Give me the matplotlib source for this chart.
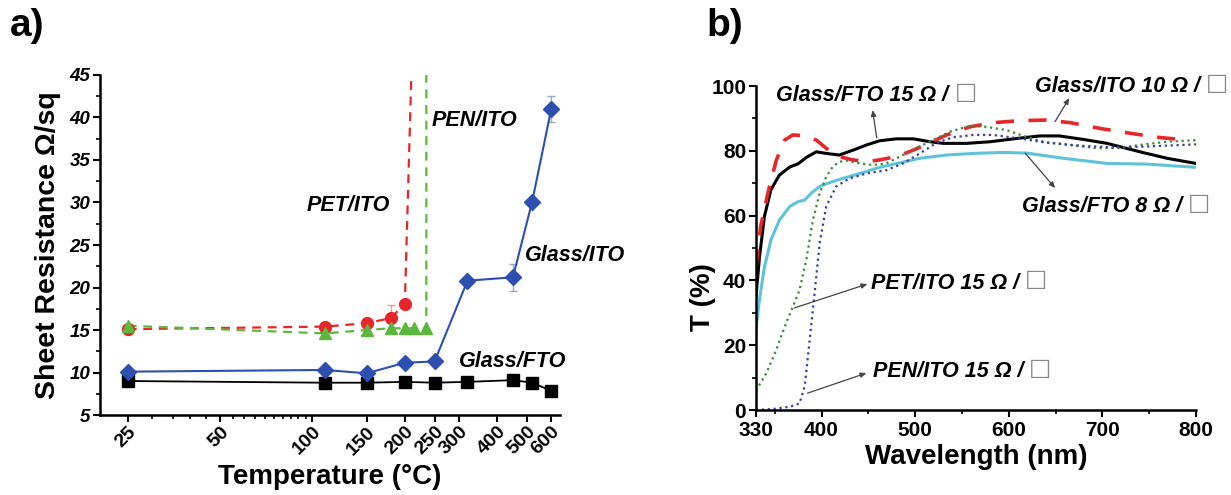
import numpy as np
import matplotlib
matplotlib.use("Agg")
import matplotlib.pyplot as plt
from matplotlib.ticker import FixedLocator, NullFormatter, MultipleLocator

plt.rcParams['font.family'] = ['Liberation Sans', 'DejaVu Sans']

# --- panel a: sheet resistance vs annealing temperature ---
temps = [25, 110, 150, 200, 250, 320, 450, 520, 600]
rs_fto = [9.0, 8.8, 8.8, 8.9, 8.8, 8.9, 9.1, 8.8, 7.85]
rs_ito = [10.1, 10.3, 9.9, 11.15, 11.3, 20.8, 21.2, 30.1, 41.0]
err_ito = [0.2, 0.2, 0.2, 0.3, 0.3, 0.3, 1.6, 0.3, 1.5]

temps_pet = [25, 110, 150, 180, 200]
rs_pet = [15.1, 15.4, 15.8, 16.4, 18.1]
err_pet = [0.2, 0.2, 0.2, 1.5, 0.2]
pet_fail = (210, 45)

temps_pen = [25, 110, 150, 180, 200, 215, 235]
rs_pen = [15.5, 14.6, 15.0, 15.2, 15.2, 15.2, 15.2]
pen_fail = (235, 45)

xticks_a = [25, 50, 100, 150, 200, 250, 300, 400, 500, 600]
xminor_a = [30, 35, 40, 45, 55, 60, 65, 70, 75, 80, 85, 90, 95]

# --- panel b: transmittance spectra ---
wl_fto15 = [330, 333.7, 339, 346, 355, 366, 375, 384, 394.5, 405, 419, 433.6, 448, 462,
            480, 498, 516, 530, 555, 580, 608, 633, 654, 680, 705, 740, 769, 800]
t_fto15 = [35, 47, 59.7, 68, 72.5, 75, 76, 78, 79.7, 79.2, 78.7, 80.2, 81.8, 83.1,
           83.7, 83.7, 82.8, 82.3, 82.3, 82.8, 83.8, 84.6, 84.6, 83.5, 82.3, 79.7, 77.7, 76.1]

wl_ito10 = [330, 335, 342.7, 351.6, 360.5, 369.4, 383.7, 394.5, 405, 419, 433.6, 448, 462,
            480, 498, 516, 533.6, 558.5, 583.5, 612, 640, 665.5, 697.7, 730, 758.5, 790]
t_ito10 = [44, 56.6, 66.9, 77, 83.3, 84.9, 84.6, 83.3, 80.8, 78.2, 77.2, 76.6, 77.2,
           78.2, 80.2, 82.5, 84.9, 87.4, 88.7, 89.3, 89.5, 88.7, 86.9, 85.4, 84.2, 83.3]

wl_fto8 = [330, 333.7, 339, 346, 355, 366, 375, 382, 389, 398, 408.7, 423, 441, 462,
           483.6, 505, 533.6, 562, 594, 619, 658.5, 705, 747.7, 800]
t_fto8 = [25, 34, 44, 52.5, 58.6, 62.8, 64.3, 64.8, 66.9, 69, 70.2, 71.5, 73, 74.9,
          76.3, 77.7, 78.7, 79.2, 79.5, 79.3, 77.7, 76.1, 75.9, 74.9]

wl_pet = [330, 341, 351.6, 362, 369.4, 376.5, 383.7, 390.8, 398, 405, 412, 419, 426.5,
          441, 455, 469, 483.6, 501, 519, 537, 558.5, 576, 597.7, 615.6, 637, 665.5,
          694, 719, 748, 769, 800]
t_pet = [6, 11.3, 18.5, 26.7, 31.9, 37, 46.3, 58.6, 66.9, 72, 75.1, 76.6, 77,
         76.1, 75.6, 76.1, 78.2, 80.8, 83.3, 85.9, 87.7, 87.4, 86.4, 84.6, 82.8, 81.8,
         80.8, 81, 82.1, 82.8, 83.3]

wl_pen = [330, 348, 366, 376.5, 382, 387, 392.6, 398, 405, 415.7, 430, 448, 469, 487,
          505, 523, 540.7, 562, 583.5, 612, 640, 680, 720, 760, 800]
t_pen = [0, 0.3, 1, 2, 7.2, 20.6, 36, 51.4, 62.8, 69, 71.5, 73, 74, 76.1,
         79.2, 82.5, 84.2, 84.9, 84.9, 83.8, 82.5, 81.5, 81, 81.5, 82]

fig = plt.figure(figsize=(12.31, 4.95), dpi=100)
ax1 = fig.add_axes([0.0812, 0.1616, 0.3736, 0.6869])
ax2 = fig.add_axes([0.6141, 0.1717, 0.3575, 0.6545])

BLUE = '#2d4fb0'
RED = '#e8262a'
GREEN = '#5cb83c'

# panel a
ax1.plot(temps, rs_fto, '-', color='black', lw=1.3, marker='s', ms=8, zorder=3)
ax1.errorbar(temps, rs_ito, yerr=err_ito, fmt='-D', color=BLUE, lw=1.5, ms=8.5,
             ecolor='#9aa6c8', elinewidth=1, capsize=3, zorder=3)
ax1.plot(temps_pet + [pet_fail[0]], rs_pet + [pet_fail[1]], '--', color=RED, lw=1.6,
         dashes=(4, 3), zorder=2)
ax1.errorbar(temps_pet, rs_pet, yerr=err_pet, fmt='o', color=RED, ms=8.5,
             ecolor='#e8a0a0', elinewidth=1, capsize=3, zorder=3)
ax1.plot(temps_pen + [pen_fail[0]], rs_pen + [pen_fail[1]], '--', color=GREEN, lw=1.6,
         dashes=(4, 3), zorder=2)
ax1.plot(temps_pen, rs_pen, '^', color=GREEN, ms=9, zorder=4)

ax1.set_xscale('log')
ax1.set_xlim(20.3, 640)
ax1.set_ylim(5, 45)
ax1.xaxis.set_major_locator(FixedLocator(xticks_a))
ax1.xaxis.set_minor_locator(FixedLocator(xminor_a))
ax1.xaxis.set_minor_formatter(NullFormatter())
ax1.set_xticklabels([str(t) for t in xticks_a], rotation=45, ha='right', va='top',
                    rotation_mode='anchor', fontsize=14, fontweight='bold')
ax1.yaxis.set_major_locator(MultipleLocator(5))
ax1.yaxis.set_minor_locator(MultipleLocator(2.5))
for lab in ax1.get_yticklabels():
    lab.set_fontsize(13.5)
    lab.set_fontweight('bold')
    lab.set_fontstyle('italic')
ax1.tick_params(axis='both', which='major', direction='out', length=5, width=1.5)
ax1.tick_params(axis='both', which='minor', direction='out', length=3, width=1.2)
ax1.tick_params(axis='x', which='major', pad=1)
ax1.tick_params(axis='y', which='major', pad=2)
for s in ['top', 'right']:
    ax1.spines[s].set_visible(False)
for s in ['left', 'bottom']:
    ax1.spines[s].set_linewidth(1.8)
ax1.set_xlabel('Temperature (°C)', fontsize=20, fontweight='bold', labelpad=4)
ax1.set_ylabel('Sheet Resistance Ω/sq', fontsize=20.5, fontweight='bold', labelpad=6)

lab_kw = dict(fontsize=15.5, fontweight='bold', fontstyle='italic', ha='left', va='center')
ax1.text(96, 29.7, 'PET/ITO', **lab_kw)
ax1.text(244, 39.7, 'PEN/ITO', **lab_kw)
ax1.text(491, 23.8, 'Glass/ITO', clip_on=False, **lab_kw)
ax1.text(301, 11.3, 'Glass/FTO', **lab_kw)

# panel b
ax2.plot(wl_fto15, t_fto15, '-', color='black', lw=2.2)
ax2.plot(wl_ito10, t_ito10, '--', color=RED, lw=2.6, dashes=(5, 4))
ax2.plot(wl_fto8, t_fto8, '-', color='#5ec3d8', lw=2.2)
ax2.plot(wl_pet, t_pet, ':', color='#3a8a3a', lw=1.6)
ax2.plot(wl_pen, t_pen, ':', color='#3c3ca0', lw=1.6)

ax2.set_xlim(330, 800)
ax2.set_ylim(0, 100)
ax2.set_xticks([330, 400, 500, 600, 700, 800])
ax2.xaxis.set_minor_locator(FixedLocator([350, 450, 550, 650, 750]))
ax2.yaxis.set_major_locator(MultipleLocator(20))
ax2.yaxis.set_minor_locator(MultipleLocator(10))
for lab in ax2.get_xticklabels() + ax2.get_yticklabels():
    lab.set_fontsize(15)
    lab.set_fontweight('bold')
ax2.tick_params(axis='both', which='major', direction='out', length=5, width=1.5, pad=1)
ax2.tick_params(axis='both', which='minor', direction='out', length=3, width=1.2)
ax2.tick_params(axis='x', which='major', pad=3)
ax2.tick_params(axis='y', which='major', pad=2)
for s in ['top', 'right']:
    ax2.spines[s].set_visible(False)
for s in ['left', 'bottom']:
    ax2.spines[s].set_linewidth(1.8)
ax2.set_xlabel('Wavelength (nm)', fontsize=20, fontweight='bold', labelpad=3)
ax2.set_ylabel('T (%)', fontsize=20, fontweight='bold')
ax2.yaxis.set_label_coords(-0.09, 0.35)

notes = [
    ('Glass/FTO 15 Ω / ', (351.8, 97.2), (454.6, 92.6), (459, 84)),
    ('Glass/ITO 10 Ω / ', (628, 99.8), (664.6, 96.3), (649.4, 89)),
    ('Glass/FTO 8 Ω / ', (614, 62.8), (649.6, 68.5), (617.5, 79.3)),
    ('PET/ITO 15 Ω / ', (453, 39.2), (449, 38.9), (371, 31.5)),
    ('PEN/ITO 15 Ω / ', (454.7, 12.0), (448, 11.4), (385, 5.2)),
]
for txt, pos, head, tail in notes:
    t = ax2.text(pos[0], pos[1], txt, fontsize=15.5, fontweight='bold',
                 fontstyle='italic', ha='left', va='center', clip_on=False)
    ax2.annotate('□', xy=(1, 0.1), xycoords=t, fontsize=17, color='#888888',
                 ha='left', va='bottom', family='DejaVu Sans', annotation_clip=False)
    ax2.annotate('', xy=head, xytext=tail,
                 arrowprops=dict(arrowstyle='-|>,head_length=0.35,head_width=0.15',
                                 color='#444444', lw=0.9, shrinkA=0, shrinkB=0))

fig.text(10 / 1231, 1 - 8 / 495, 'a)', fontsize=28, fontweight='bold', va='top', ha='left')
fig.text(706 / 1231, 1 - 8 / 495, 'b)', fontsize=28, fontweight='bold', va='top', ha='left')

fig.savefig('out.png', dpi=100)
